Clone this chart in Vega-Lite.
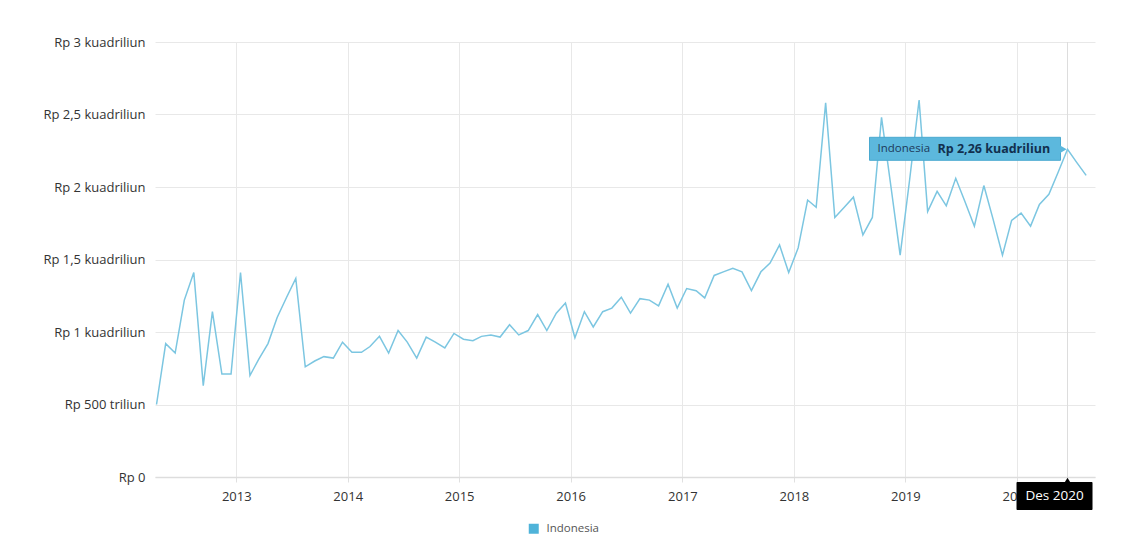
{
  "$schema": "https://vega.github.io/schema/vega-lite/v6.json",
  "width": 940,
  "height": 435,
  "autosize": "none",
  "padding": {"left": 155, "top": 42, "right": 33, "bottom": 81},
  "background": "#ffffff",
  "config": {
    "view": {"stroke": null},
    "font": "Open Sans",
    "axis": {"labelFont": "Open Sans", "labelColor": "#333333", "gridColor": "#e8e8e8", "gridWidth": 1, "title": null}
  },
  "datasets": {
    "series": [
      {"date": "2012-04-15", "value": 0.50},
      {"date": "2012-05-15", "value": 0.92},
      {"date": "2012-06-15", "value": 0.855},
      {"date": "2012-07-15", "value": 1.22},
      {"date": "2012-08-15", "value": 1.41},
      {"date": "2012-09-15", "value": 0.63},
      {"date": "2012-10-15", "value": 1.14},
      {"date": "2012-11-15", "value": 0.71},
      {"date": "2012-12-15", "value": 0.71},
      {"date": "2013-01-15", "value": 1.41},
      {"date": "2013-02-15", "value": 0.70},
      {"date": "2013-03-15", "value": 0.81},
      {"date": "2013-04-15", "value": 0.92},
      {"date": "2013-05-15", "value": 1.10},
      {"date": "2013-06-15", "value": 1.24},
      {"date": "2013-07-15", "value": 1.37},
      {"date": "2013-08-15", "value": 0.76},
      {"date": "2013-09-15", "value": 0.80},
      {"date": "2013-10-15", "value": 0.83},
      {"date": "2013-11-15", "value": 0.82},
      {"date": "2013-12-15", "value": 0.93},
      {"date": "2014-01-15", "value": 0.86},
      {"date": "2014-02-15", "value": 0.86},
      {"date": "2014-03-15", "value": 0.90},
      {"date": "2014-04-15", "value": 0.97},
      {"date": "2014-05-15", "value": 0.855},
      {"date": "2014-06-15", "value": 1.01},
      {"date": "2014-07-15", "value": 0.93},
      {"date": "2014-08-15", "value": 0.82},
      {"date": "2014-09-15", "value": 0.965},
      {"date": "2014-10-15", "value": 0.93},
      {"date": "2014-11-15", "value": 0.89},
      {"date": "2014-12-15", "value": 0.99},
      {"date": "2015-01-15", "value": 0.95},
      {"date": "2015-02-15", "value": 0.94},
      {"date": "2015-03-15", "value": 0.97},
      {"date": "2015-04-15", "value": 0.98},
      {"date": "2015-05-15", "value": 0.965},
      {"date": "2015-06-15", "value": 1.05},
      {"date": "2015-07-15", "value": 0.98},
      {"date": "2015-08-15", "value": 1.01},
      {"date": "2015-09-15", "value": 1.12},
      {"date": "2015-10-15", "value": 1.01},
      {"date": "2015-11-15", "value": 1.13},
      {"date": "2015-12-15", "value": 1.20},
      {"date": "2016-01-15", "value": 0.96},
      {"date": "2016-02-15", "value": 1.14},
      {"date": "2016-03-15", "value": 1.035},
      {"date": "2016-04-15", "value": 1.14},
      {"date": "2016-05-15", "value": 1.165},
      {"date": "2016-06-15", "value": 1.24},
      {"date": "2016-07-15", "value": 1.13},
      {"date": "2016-08-15", "value": 1.23},
      {"date": "2016-09-15", "value": 1.22},
      {"date": "2016-10-15", "value": 1.18},
      {"date": "2016-11-15", "value": 1.33},
      {"date": "2016-12-15", "value": 1.165},
      {"date": "2017-01-15", "value": 1.30},
      {"date": "2017-02-15", "value": 1.285},
      {"date": "2017-03-15", "value": 1.235},
      {"date": "2017-04-15", "value": 1.39},
      {"date": "2017-05-15", "value": 1.415},
      {"date": "2017-06-15", "value": 1.44},
      {"date": "2017-07-15", "value": 1.415},
      {"date": "2017-08-15", "value": 1.285},
      {"date": "2017-09-15", "value": 1.415},
      {"date": "2017-10-15", "value": 1.475},
      {"date": "2017-11-15", "value": 1.60},
      {"date": "2017-12-15", "value": 1.41},
      {"date": "2018-01-15", "value": 1.58},
      {"date": "2018-02-15", "value": 1.91},
      {"date": "2018-03-15", "value": 1.86},
      {"date": "2018-04-15", "value": 2.58},
      {"date": "2018-05-15", "value": 1.79},
      {"date": "2018-06-15", "value": 1.86},
      {"date": "2018-07-15", "value": 1.93},
      {"date": "2018-08-15", "value": 1.67},
      {"date": "2018-09-15", "value": 1.79},
      {"date": "2018-10-15", "value": 2.48},
      {"date": "2018-11-15", "value": 2.00},
      {"date": "2018-12-15", "value": 1.53},
      {"date": "2019-01-15", "value": 2.05},
      {"date": "2019-02-15", "value": 2.60},
      {"date": "2019-03-15", "value": 1.83},
      {"date": "2019-04-15", "value": 1.97},
      {"date": "2019-05-15", "value": 1.87},
      {"date": "2019-06-15", "value": 2.06},
      {"date": "2019-07-15", "value": 1.90},
      {"date": "2019-08-15", "value": 1.73},
      {"date": "2019-09-15", "value": 2.01},
      {"date": "2019-10-15", "value": 1.78},
      {"date": "2019-11-15", "value": 1.53},
      {"date": "2019-12-15", "value": 1.77},
      {"date": "2020-01-15", "value": 1.82},
      {"date": "2020-02-15", "value": 1.73},
      {"date": "2020-03-15", "value": 1.88},
      {"date": "2020-04-15", "value": 1.95},
      {"date": "2020-05-15", "value": 2.10},
      {"date": "2020-06-15", "value": 2.26},
      {"date": "2020-07-15", "value": 2.17},
      {"date": "2020-08-15", "value": 2.08}
    ],
    "highlight": [
      {"date": "2020-06-15", "value": 2.26, "name": "Indonesia", "valueText": "Rp 2,26 kuadriliun", "period": "Des 2020", "zero": 0}
    ]
  },
  "layer": [
    {
      "data": {"name": "highlight"},
      "mark": {"type": "rule", "color": "#dddddd", "strokeWidth": 1},
      "encoding": {
        "x": {"field": "date", "type": "temporal"}
      }
    },
    {
      "data": {"name": "series"},
      "mark": {"type": "line", "strokeWidth": 1.5, "interpolate": "linear"},
      "encoding": {
        "x": {
          "field": "date", "type": "temporal",
          "scale": {"domain": ["2012-04-10", "2020-09-13"], "nice": false},
          "axis": {
            "format": "%Y", "tickCount": {"interval": "year", "step": 1},
            "labelFontSize": 13, "labelPadding": 8, "tickSize": 5, "tickColor": "#e0e0e0",
            "domainColor": "#dddddd", "domainWidth": 1.5, "grid": true
          }
        },
        "y": {
          "field": "value", "type": "quantitative",
          "scale": {"domain": [0, 3], "nice": false},
          "axis": {
            "values": [0, 0.5, 1, 1.5, 2, 2.5, 3],
            "labelExpr": "datum.value == 0 ? 'Rp 0' : datum.value == 0.5 ? 'Rp 500 triliun' : 'Rp ' + replace(toString(datum.value), '.', ',') + ' kuadriliun'",
            "labelFontSize": 13, "labelPadding": 10, "ticks": false, "domain": false
          }
        },
        "color": {
          "datum": "Indonesia",
          "scale": {"range": ["#7cc6e1"]},
          "legend": {
            "title": null, "orient": "none", "legendX": 373, "legendY": 481,
            "symbolType": "square", "symbolSize": 100, "symbolFillColor": "#4fb3d9",
            "symbolStrokeWidth": 0, "labelFontSize": 11.5, "labelColor": "#555555",
            "labelFont": "Open Sans", "padding": 0, "labelOffset": 7
          }
        }
      }
    },
    {
      "data": {"name": "highlight"},
      "mark": {"type": "rect", "color": "#5cb8dd", "stroke": "#4aa9d0", "strokeWidth": 1, "xOffset": -198, "x2Offset": -7, "yOffset": -12, "y2Offset": 11},
      "encoding": {
        "x": {"field": "date", "type": "temporal"},
        "x2": {"field": "date"},
        "y": {"field": "value", "type": "quantitative"},
        "y2": {"field": "value"}
      }
    },
    {
      "data": {"name": "highlight"},
      "mark": {"type": "point", "shape": "triangle-right", "filled": true, "color": "#5cb8dd", "size": 90, "opacity": 1, "xOffset": -5},
      "encoding": {
        "x": {"field": "date", "type": "temporal"},
        "y": {"field": "value", "type": "quantitative"}
      }
    },
    {
      "data": {"name": "highlight"},
      "mark": {"type": "text", "align": "left", "baseline": "middle", "dx": -190, "dy": 0, "fontSize": 11.5, "color": "#1d3a5a", "font": "Open Sans"},
      "encoding": {
        "x": {"field": "date", "type": "temporal"},
        "y": {"field": "value", "type": "quantitative"},
        "text": {"field": "name"}
      }
    },
    {
      "data": {"name": "highlight"},
      "mark": {"type": "text", "align": "left", "baseline": "middle", "dx": -130, "dy": 0, "fontSize": 12.5, "fontWeight": "bold", "color": "#12304f", "font": "Open Sans"},
      "encoding": {
        "x": {"field": "date", "type": "temporal"},
        "y": {"field": "value", "type": "quantitative"},
        "text": {"field": "valueText"}
      }
    },
    {
      "data": {"name": "highlight"},
      "mark": {"type": "rect", "color": "#000000", "xOffset": -51, "x2Offset": 25, "yOffset": 5, "y2Offset": 33, "cornerRadius": 1},
      "encoding": {
        "x": {"field": "date", "type": "temporal"},
        "x2": {"field": "date"},
        "y": {"field": "zero", "type": "quantitative"},
        "y2": {"field": "zero"}
      }
    },
    {
      "data": {"name": "highlight"},
      "mark": {"type": "point", "shape": "triangle-up", "filled": true, "color": "#000000", "size": 30, "opacity": 1, "yOffset": 3},
      "encoding": {
        "x": {"field": "date", "type": "temporal"},
        "y": {"field": "zero", "type": "quantitative"}
      }
    },
    {
      "data": {"name": "highlight"},
      "mark": {"type": "text", "align": "center", "baseline": "middle", "dx": -13, "dy": 19, "fontSize": 13.5, "color": "#ffffff", "font": "Open Sans"},
      "encoding": {
        "x": {"field": "date", "type": "temporal"},
        "y": {"field": "zero", "type": "quantitative"},
        "text": {"field": "period"}
      }
    }
  ]
}
